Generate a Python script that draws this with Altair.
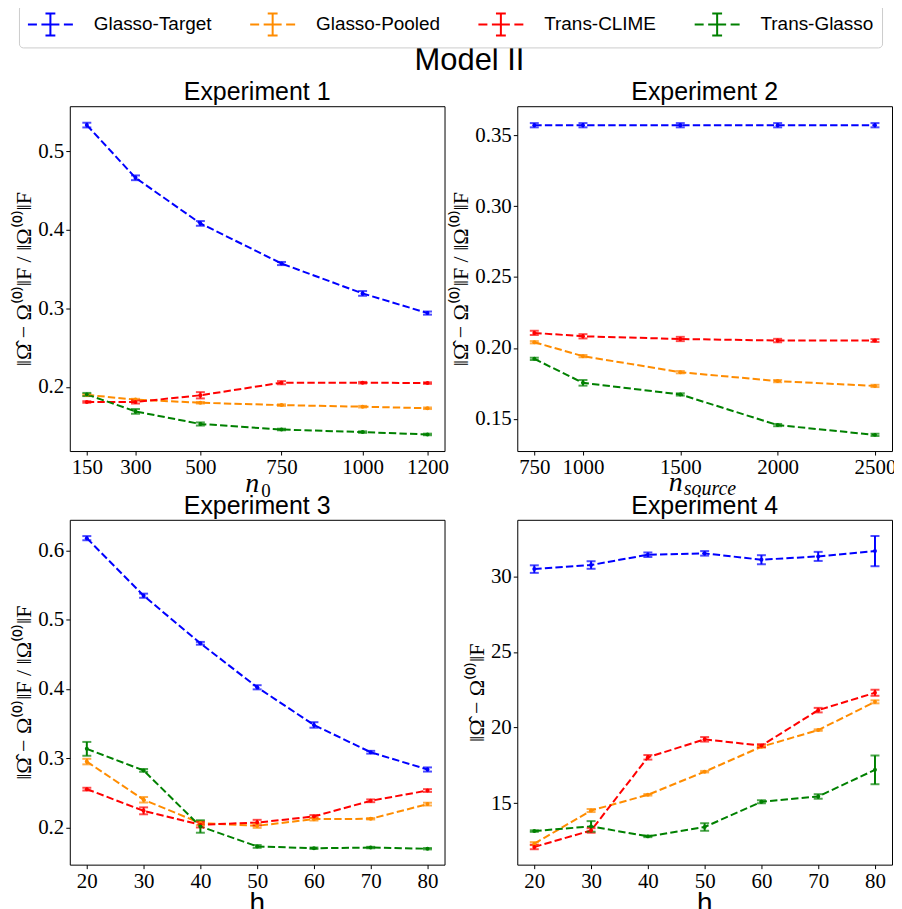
import altair as alt
import pandas as pd

methods = ["Glasso-Target", "Glasso-Pooled", "Trans-CLIME", "Trans-Glasso"]
colors = ["#0000ff", "#ff8c00", "#ff0000", "#008000"]

# Experiment 1 (x = n0)
exp1_x = [150, 300, 500, 750, 1000, 1200]
exp1_target = [0.533, 0.466, 0.408, 0.357, 0.319, 0.294]
exp1_target_err = [0.003, 0.003, 0.003, 0.002, 0.003, 0.002]
exp1_pooled = [0.190, 0.184, 0.180, 0.177, 0.175, 0.173]
exp1_pooled_err = [0.001, 0.001, 0.001, 0.001, 0.001, 0.001]
exp1_clime = [0.181, 0.181, 0.1895, 0.2055, 0.2055, 0.205]
exp1_clime_err = [0.001, 0.002, 0.004, 0.002, 0.001, 0.001]
exp1_tglasso = [0.1905, 0.169, 0.153, 0.146, 0.1427, 0.1397]
exp1_tglasso_err = [0.002, 0.003, 0.002, 0.001, 0.001, 0.001]

# Experiment 2 (x = n_source)
exp2_x = [750, 1000, 1500, 2000, 2500]
exp2_target = [0.357, 0.357, 0.357, 0.357, 0.357]
exp2_target_err = [0.0015, 0.0015, 0.0015, 0.0015, 0.0015]
exp2_pooled = [0.204, 0.1942, 0.1829, 0.1766, 0.1732]
exp2_pooled_err = [0.0008, 0.0008, 0.0008, 0.0008, 0.0008]
exp2_clime = [0.2106, 0.2082, 0.2063, 0.2052, 0.2052]
exp2_clime_err = [0.0015, 0.0015, 0.0015, 0.0012, 0.001]
exp2_tglasso = [0.1923, 0.1754, 0.1672, 0.1456, 0.1387]
exp2_tglasso_err = [0.0008, 0.002, 0.0008, 0.0008, 0.0008]

# Experiment 3 (x = h)
exp3_x = [20, 30, 40, 50, 60, 70, 80]
exp3_target = [0.6177, 0.5346, 0.4659, 0.4024, 0.348, 0.3086, 0.2837]
exp3_target_err = [0.003, 0.003, 0.002, 0.003, 0.004, 0.002, 0.003]
exp3_pooled = [0.2951, 0.240, 0.2063, 0.2024, 0.212, 0.2125, 0.2337]
exp3_pooled_err = [0.004, 0.004, 0.003, 0.003, 0.002, 0.001, 0.002]
exp3_clime = [0.2553, 0.224, 0.204, 0.207, 0.2159, 0.2385, 0.2533]
exp3_clime_err = [0.002, 0.005, 0.004, 0.004, 0.002, 0.002, 0.002]
exp3_tglasso = [0.3135, 0.2824, 0.2014, 0.1726, 0.170, 0.171, 0.1693]
exp3_tglasso_err = [0.010, 0.002, 0.009, 0.002, 0.001, 0.001, 0.001]

# Experiment 4 (x = h)
exp4_x = [20, 30, 40, 50, 60, 70, 80]
exp4_target = [30.48, 30.75, 31.43, 31.52, 31.10, 31.32, 31.67]
exp4_target_err = [0.25, 0.25, 0.15, 0.15, 0.3, 0.3, 1.0]
exp4_pooled = [12.32, 14.51, 15.55, 17.08, 18.73, 19.83, 21.70]
exp4_pooled_err = [0.1, 0.1, 0.05, 0.05, 0.05, 0.05, 0.1]
exp4_clime = [12.10, 13.19, 18.03, 19.22, 18.80, 21.15, 22.30]
exp4_clime_err = [0.15, 0.15, 0.15, 0.15, 0.1, 0.15, 0.2]
exp4_tglasso = [13.15, 13.46, 12.80, 13.42, 15.09, 15.44, 17.20]
exp4_tglasso_err = [0.05, 0.35, 0.05, 0.25, 0.1, 0.15, 0.95]

SUPTITLE = "Model II"
SERIF = "Liberation Serif"
SANS = "Liberation Sans"

# dashed line with an error-bar glyph, drawn to the right of the nominal symbol box
LEGEND_PATH = ("M-1,0H-0.18M0.23,0H1.87M2.28,0H3.1"
               "M1.05,-1V1M0.6,-1H1.5M0.6,1H1.5")


def frame(x, series):
    rows = []
    for m, (vals, errs) in zip(methods, series):
        for xi, v, e in zip(x, vals, errs):
            rows.append({"x": xi, "y": v, "lo": v - e, "hi": v + e, "method": m})
    return pd.DataFrame(rows)


# stroke scale (carries the legend) and color scale (no legend) use the same
# colours; the colour scale lists the domain in reverse so the two legends are
# not merged into one disabled legend.
stroke_scale = alt.Scale(domain=methods, range=colors)
color_scale = alt.Scale(domain=methods[::-1], range=colors[::-1])
legend = alt.Legend(
    title=None, orient="none", legendX=-51, legendY=-102, direction="horizontal",
    columns=4, symbolType=LEGEND_PATH, symbolSize=484,
    symbolStrokeWidth=2,
    labelFont=SANS, labelFontSize=19, labelColor="black", labelOffset=43,
    labelLimit=400, columnPadding=34, padding=8, strokeColor="#cccccc",
    fillColor="white", cornerRadius=4,
)

PW, PH = 376, 346


def label(text, x, y, font, size, italic=True, align="left"):
    return alt.Chart(pd.DataFrame({"t": [text]})).mark_text(
        font=font, fontSize=size, fontStyle="italic" if italic else "normal",
        align=align, baseline="alphabetic", color="black",
    ).encode(text="t:N", x=alt.value(x), y=alt.value(y))


def panel(df, xdom, ydom, xticks, yticks, yfmt, title, ytitle, xlab):
    base = alt.Chart(df)
    xenc = alt.X("x:Q", scale=alt.Scale(domain=xdom, nice=False, zero=False),
                 axis=alt.Axis(values=xticks, format="d", title=None, labelOverlap=False))
    yenc = alt.Y("y:Q", scale=alt.Scale(domain=ydom, nice=False, zero=False),
                 axis=alt.Axis(values=yticks, format=yfmt, title=ytitle, labelOverlap=False))
    col = alt.Color("method:N", scale=color_scale, legend=None)
    line = base.mark_line(strokeDash=[7.4, 3.2], strokeWidth=2).encode(
        x=xenc, y=yenc, color=col, detail="method:N")
    rule = base.mark_rule(strokeWidth=2).encode(
        x="x:Q", y="lo:Q", y2="hi:Q",
        stroke=alt.Stroke("method:N", scale=stroke_scale, legend=legend))
    cap_lo = base.mark_tick(orient="horizontal", size=9, thickness=2).encode(
        x="x:Q", y="lo:Q", color=col)
    cap_hi = base.mark_tick(orient="horizontal", size=9, thickness=2).encode(
        x="x:Q", y="hi:Q", color=col)
    pts = base.mark_circle(size=16, opacity=1).encode(x="x:Q", y="y:Q", color=col)
    ttl = label(title, PW / 2, -6, SANS, 25, italic=False, align="center")
    layers = [line, rule, cap_lo, cap_hi, pts, ttl] + xlab
    return alt.layer(*layers).properties(width=PW, height=PH)


ytitle_ratio = "\u2016\u03a9\u0302 \u2212 \u03a9\u207d\u2070\u207e\u2016F / \u2016\u03a9\u207d\u2070\u207e\u2016F"
ytitle_abs = "\u2016\u03a9\u0302 \u2212 \u03a9\u207d\u2070\u207e\u2016F"

df1 = frame(exp1_x, [(exp1_target, exp1_target_err), (exp1_pooled, exp1_pooled_err),
                     (exp1_clime, exp1_clime_err), (exp1_tglasso, exp1_tglasso_err)])
df2 = frame(exp2_x, [(exp2_target, exp2_target_err), (exp2_pooled, exp2_pooled_err),
                     (exp2_clime, exp2_clime_err), (exp2_tglasso, exp2_tglasso_err)])
df3 = frame(exp3_x, [(exp3_target, exp3_target_err), (exp3_pooled, exp3_pooled_err),
                     (exp3_clime, exp3_clime_err), (exp3_tglasso, exp3_tglasso_err)])
df4 = frame(exp4_x, [(exp4_target, exp4_target_err), (exp4_pooled, exp4_pooled_err),
                     (exp4_clime, exp4_clime_err), (exp4_tglasso, exp4_tglasso_err)])

p1 = panel(df1, [97.5, 1252.5], [0.1186, 0.557], exp1_x, [0.2, 0.3, 0.4, 0.5], ".1f",
           "Experiment 1", ytitle_ratio,
           [label("n", 176, 387, SERIF, 28), label("0", 192, 392, SERIF, 19, italic=False),
            label(SUPTITLE, 346, -36, SANS, 31, italic=False)])
p2 = panel(df2, [662.5, 2587.5], [0.1273, 0.3704], exp2_x, [0.15, 0.2, 0.25, 0.3, 0.35], ".2f",
           "Experiment 2", ytitle_ratio,
           [label("n", 152, 386, SERIF, 28), label("source", 167, 390, SERIF, 20)])
p3 = panel(df3, [17, 83], [0.1463, 0.6442], exp3_x, [0.2, 0.3, 0.4, 0.5, 0.6], ".1f",
           "Experiment 3", ytitle_ratio,
           [label("h", 188, 394, SANS, 28, italic=False, align="center")])
p4 = panel(df4, [17, 83], [10.93, 33.74], exp4_x, [15, 20, 25, 30], "d",
           "Experiment 4", ytitle_abs,
           [label("h", 188, 394, SANS, 28, italic=False, align="center")])

chart = alt.concat(
    p1, p2, p3, p4, columns=2, spacing={"row": 69, "column": 73}, bounds="flush",
).resolve_scale(
    x="independent", y="independent"
).properties(
    padding={"left": 4, "top": -6, "right": -3, "bottom": 0}
).configure_view(
    stroke="black", strokeWidth=1
).configure_axis(
    domain=False, grid=False, ticks=True, tickColor="black", tickSize=4, tickWidth=1,
    labelFont=SERIF, labelFontSize=21, labelColor="black", labelPadding=2,
    titleFont=SERIF, titleFontSize=22, titleFontWeight="normal", titleColor="black",
    titlePadding=2,
)

chart.save("out.html", embed_options={"renderer": "svg", "actions": False})
